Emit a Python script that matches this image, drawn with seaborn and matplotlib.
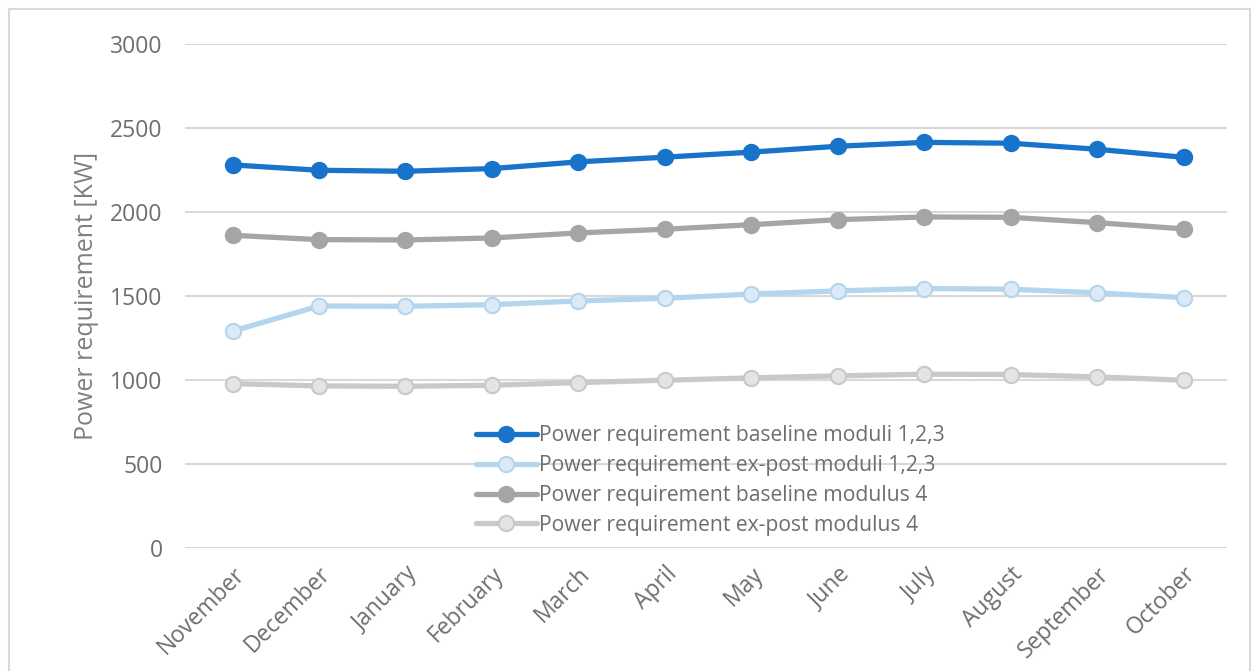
import matplotlib
matplotlib.use("Agg")
import matplotlib.pyplot as plt
import pandas as pd
import seaborn as sns
from matplotlib.patches import Rectangle

months = ["November", "December", "January", "February", "March", "April",
          "May", "June", "July", "August", "September", "October"]
baseline_123 = [2282, 2250, 2244, 2260, 2300, 2328, 2358, 2393, 2416, 2411, 2375, 2327]
expost_123 = [1292, 1442, 1440, 1450, 1472, 1488, 1513, 1532, 1546, 1542, 1520, 1492]
baseline_4 = [1863, 1837, 1835, 1847, 1877, 1899, 1926, 1956, 1972, 1970, 1938, 1901]
expost_4 = [980, 966, 964, 970, 986, 1000, 1014, 1026, 1036, 1034, 1020, 1000]

labels = ["Power requirement baseline moduli 1,2,3",
          "Power requirement ex-post moduli 1,2,3",
          "Power requirement baseline modulus 4",
          "Power requirement ex-post modulus 4"]

# line colour, marker face, marker edge
styles = [("#1873CA", "#1873CA", "#1873CA"),
          ("#B3D5EE", "#DCEAF7", "#B3D5EE"),
          ("#A5A5A5", "#A5A5A5", "#A5A5A5"),
          ("#C9C9C9", "#E4E4E4", "#C9C9C9")]

sns.set_style("white")
plt.rcParams["font.family"] = ["Open Sans", "DejaVu Sans"]

fig = plt.figure(figsize=(12.54, 6.71), dpi=100)
ax = fig.add_axes([0.1475, 0.183, 0.831, 0.751])

x = list(range(len(months)))
for series, label, (lc, fc, ec) in zip([baseline_123, expost_123, baseline_4, expost_4], labels, styles):
    df = pd.DataFrame({"month": x, "value": series})
    sns.lineplot(data=df, x="month", y="value", ax=ax, color=lc, linewidth=3.8,
                 marker="o", markersize=11, markerfacecolor=fc, markeredgecolor=ec,
                 markeredgewidth=1.5, label=label, sort=False)

ax.set_xlim(-0.55, 11.5)
ax.set_ylim(0, 3000)
ax.set_yticks(range(0, 3001, 500))
ax.set_xticks(x)
ax.set_xticklabels(months, rotation=45, ha="right", rotation_mode="anchor")
ax.tick_params(axis="both", labelsize=16.5, colors="#6E6E6E", length=0, pad=10)
ax.tick_params(axis="y", pad=16)
ax.grid(axis="y", color="#D9D9D9", linewidth=1.5)
ax.set_axisbelow(True)
for s in ax.spines.values():
    s.set_visible(False)

ax.set_xlabel("")
ax.set_ylabel("Power requirement [KW]", fontsize=18, color="#7F7F7F", labelpad=8)

leg = ax.legend(loc="upper left", bbox_to_anchor=(0.269, 0.265), frameon=False,
                fontsize=15.2, handlelength=2.9, handletextpad=0.1, labelspacing=0.42,
                borderpad=0)
for t in leg.get_texts():
    t.set_color("#6E6E6E")

fig.patches.append(Rectangle((0.007, -0.01), 0.99, 0.997, transform=fig.transFigure,
                             fill=False, edgecolor="#D9D9D9", linewidth=1.5))

fig.savefig("out.png", dpi=100)
